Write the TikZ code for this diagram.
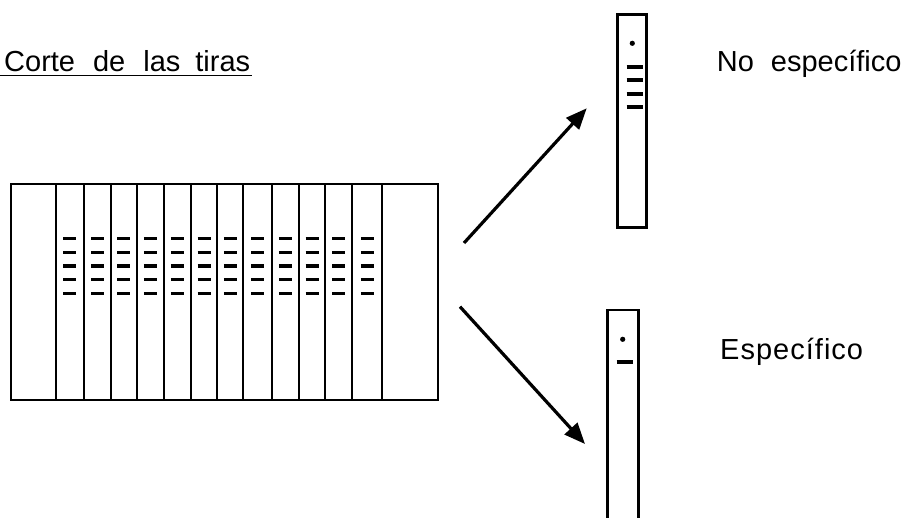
\documentclass[tikz,border=0pt]{standalone}
\usepackage{fontspec}
\setmainfont{Liberation Sans}
\usetikzlibrary{arrows.meta}
\begin{document}
\begin{tikzpicture}[x=1pt,y=-1pt,
  frame/.style={draw=black,line width=2.6pt,fill=white,inner sep=0pt},
  divider/.style={draw=black,line width=2pt},
  band/.style={draw=black,line width=3.3pt},
  bigband/.style={draw=black,line width=4pt},
  pointer/.style={draw=black,line width=3.2pt,-{Triangle[length=21pt,width=17pt]}},
  label/.style={font=\fontsize{29}{34}\selectfont,inner sep=0pt,anchor=base west}]
\useasboundingbox (0,0) rectangle (911,518);
\fill[white] (0,0) rectangle (911,518);
% title
\node[label] (title) at (4,71.7) {Corte\hspace{18pt}de\hspace{18pt}las\hspace{15pt}tiras};
\draw[line width=1.6pt] (0,75.5) -- (252,75.5);
% main sheet
\node[frame,minimum width=427pt,minimum height=216pt] (sheet) at (224.5,292) {};
\foreach \x in {55.7,84,111,136.7,164,190.7,217.3,243.3,271.7,299,325,352.3,382.3}
  \draw[divider] (\x,184) -- (\x,400);
\foreach \c in {69.8,97.5,123.8,150.3,177.3,204,230.3,257.5,285.3,312,338.7,367.3}
  \foreach \y in {238.5,252.2,265.9,279.6,293.3}
    \draw[band] (\c-6.5,\y) -- (\c+6.5,\y);
% strip: non specific
\node[frame,minimum width=29.4pt,minimum height=213.4pt] (strip1) at (632,121) {};
\fill (632.3,43.3) circle (2.6pt);
\foreach \y in {66.7,80,94.3,107.3}
  \draw[bigband] (626.7,\y) -- (642.7,\y);
% strip: specific (open at bottom)
\coordinate (s2a) at (607.3,519);
\coordinate (s2b) at (638.3,519);
\draw[line width=2.6pt] (s2a) -- (607.3,310) -- (638.3,310) -- (s2b);
\fill (622.7,339.3) circle (2.6pt);
\draw[bigband] (616.7,362) -- (632.7,362);
% arrows
\coordinate (a1s) at (464,243);
\coordinate (a1e) at (586.7,108.3);
\coordinate (a2s) at (460,306.7);
\coordinate (a2e) at (585,444);
\draw[pointer] (a1s) -- (a1e);
\draw[pointer] (a2s) -- (a2e);
% labels
\node[label] (nonspec) at (716.7,71.7) {No\hspace{17pt}específico};
\node[label] (spec) at (720,360) {\addfontfeature{LetterSpace=3.5}Específico};
\end{tikzpicture}
\end{document}
